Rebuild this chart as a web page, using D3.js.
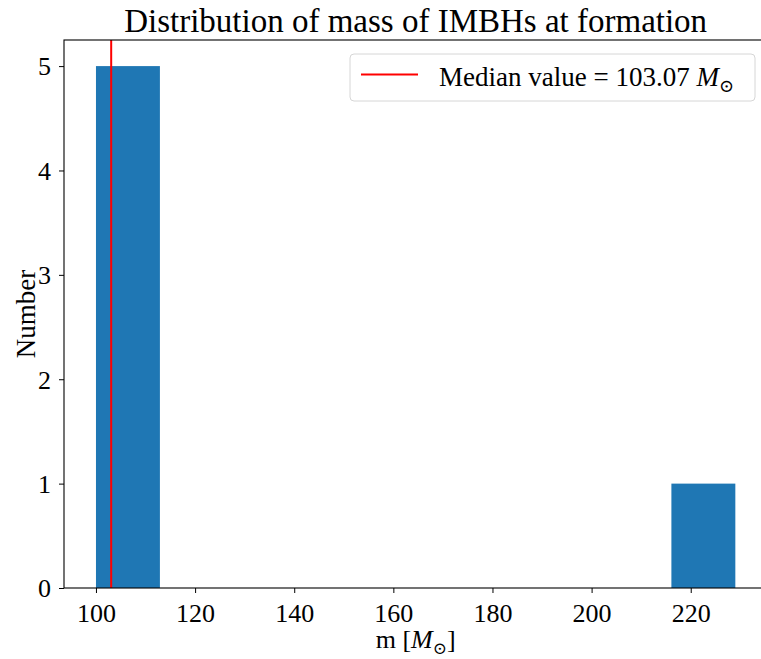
<!DOCTYPE html>
<html>
<head>
<meta charset="utf-8">
<script src="https://cdn.jsdelivr.net/npm/d3@7"></script>
<style>
  body { margin: 0; background: #fff; }
  svg text { font-family: "Liberation Serif", "DejaVu Serif", serif; fill: #000; }
</style>
</head>
<body>
<div id="chart"></div>
<script>
// masses of the IMBHs at formation [M_sun]
var masses = [100.0, 101.6, 102.5, 103.64, 106.9, 229.0];
var nBins = 10;
var xTicks = [100, 120, 140, 160, 180, 200, 220];
var yTicks = [0, 1, 2, 3, 4, 5];

(function () {
    var width = 761, height = 659;
    var m = { left: 64, right: 767.3, top: 40, bottom: 588 };

    var svg = d3.select("#chart").append("svg")
        .attr("width", width)
        .attr("height", height);

    var lo = d3.min(masses), hi = d3.max(masses);
    var span = hi - lo;

    var binner = d3.bin()
        .domain([lo, hi])
        .thresholds(d3.range(1, nBins).map(function (i) { return lo + i * span / nBins; }));
    var bins = binner(masses);

    var x = d3.scaleLinear()
        .domain([lo - 0.05 * span, hi + 0.05 * span])
        .range([m.left, m.right]);

    var yMax = d3.max(bins, function (d) { return d.length; });
    var y = d3.scaleLinear()
        .domain([0, yMax * 1.05])
        .range([m.bottom, m.top]);

    // bars
    svg.selectAll("rect.bar")
        .data(bins.filter(function (d) { return d.length > 0; }))
        .enter().append("rect")
        .attr("class", "bar")
        .attr("x", function (d) { return x(d.x0); })
        .attr("width", function (d) { return x(d.x1) - x(d.x0); })
        .attr("y", function (d) { return y(d.length); })
        .attr("height", function (d) { return y(0) - y(d.length); })
        .attr("fill", "#1f77b4");

    // median line
    var med = d3.median(masses);
    svg.append("line")
        .attr("x1", x(med)).attr("x2", x(med))
        .attr("y1", m.top).attr("y2", m.bottom)
        .attr("stroke", "red")
        .attr("stroke-width", 2);

    // axes
    var xAxis = svg.append("g")
        .attr("transform", "translate(0," + m.bottom + ")")
        .call(d3.axisBottom(x).tickValues(xTicks).tickFormat(d3.format("d"))
            .tickSize(5).tickPadding(6));
    var yAxis = svg.append("g")
        .attr("transform", "translate(" + m.left + ",0)")
        .call(d3.axisLeft(y).tickValues(yTicks).tickFormat(d3.format("d"))
            .tickSize(5).tickPadding(8));

    [xAxis, yAxis].forEach(function (g) {
        g.selectAll("text").style("font-size", "26px").attr("fill", "#000");
        g.selectAll("line").attr("stroke", "#000").attr("stroke-width", 1);
        g.select(".domain").remove();
    });
    xAxis.selectAll("text").attr("dy", "0.9em");
    yAxis.selectAll("text").attr("dy", "0.34em");

    // spines
    svg.append("rect")
        .attr("x", m.left).attr("y", m.top)
        .attr("width", m.right - m.left).attr("height", m.bottom - m.top)
        .attr("fill", "none")
        .attr("stroke", "#000")
        .attr("stroke-width", 1.1);

    // title
    svg.append("text")
        .attr("x", (m.left + m.right) / 2)
        .attr("y", 32)
        .attr("text-anchor", "middle")
        .style("font-size", "33px")
        .text("Distribution of mass of IMBHs at formation");

    // x label
    var xl = svg.append("text")
        .attr("x", (m.left + m.right) / 2)
        .attr("y", 648)
        .attr("text-anchor", "middle")
        .style("font-size", "26px");
    xl.append("tspan").text("m [");
    xl.append("tspan").style("font-style", "italic").text("M");
    xl.append("tspan").attr("dy", 6).style("font-size", "17px").text("\u2299");
    xl.append("tspan").attr("dy", -6).text("]");

    // y label
    svg.append("text")
        .attr("transform", "translate(35," + ((m.top + m.bottom) / 2) + ") rotate(-90)")
        .attr("text-anchor", "middle")
        .style("font-size", "27px")
        .text("Number");

    // legend
    var lg = svg.append("g");
    lg.append("rect")
        .attr("x", 350).attr("y", 54)
        .attr("width", 405).attr("height", 47)
        .attr("rx", 4)
        .attr("fill", "#fff").attr("fill-opacity", 0.8)
        .attr("stroke", "#d6d6d6");
    lg.append("line")
        .attr("x1", 361).attr("x2", 418)
        .attr("y1", 74.5).attr("y2", 74.5)
        .attr("stroke", "red").attr("stroke-width", 2);
    var lt = lg.append("text")
        .attr("x", 439)
        .attr("y", 86)
        .style("font-size", "27px");
    lt.append("tspan").text("Median value = " + med.toFixed(2) + " ");
    lt.append("tspan").style("font-style", "italic").text("M");
    lt.append("tspan").attr("dy", 6).style("font-size", "18px").text("\u2299");
})();
</script>
</body>
</html>
